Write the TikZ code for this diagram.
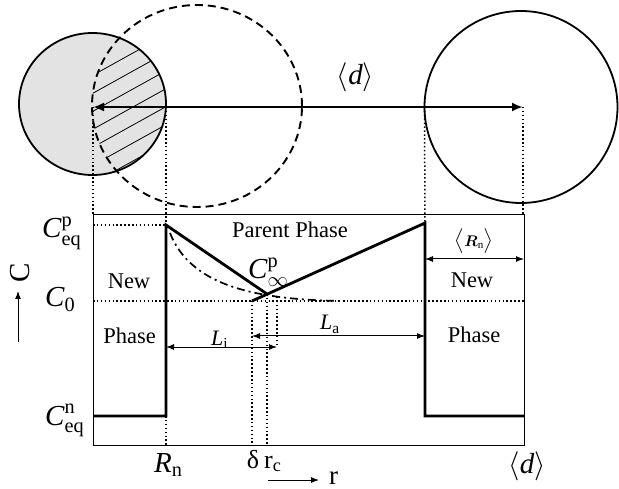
\RequirePackage{fix-cm}
\documentclass[tikz,border=0pt]{standalone}
\usepackage{amsmath}
\usepackage{fontspec}
\setmainfont{Liberation Serif}
\usetikzlibrary{arrows.meta}
\tikzset{
  boldline/.style={line width=2.8pt},
  thinbox/.style={line width=0.8pt},
  dotline/.style={line width=1.5pt, dash pattern=on 1.5pt off 2.4pt},
  hatchline/.style={line width=0.8pt},
  dashcirc/.style={line width=1.9pt, dash pattern=on 8pt off 5pt},
  solidcirc/.style={line width=1.8pt},
  dimarrow/.style={line width=1pt, {Latex[length=8pt,width=6pt]}-{Latex[length=8pt,width=6pt]}},
  bigarrow/.style={line width=2.2pt, {Latex[length=11pt,width=9pt]}-{Latex[length=11pt,width=9pt]}},
  axarrow/.style={line width=1pt, -{Latex[length=8pt,width=6pt]}},
  dashdotline/.style={line width=1.7pt, dash pattern=on 8pt off 4pt on 2pt off 4pt},
  txt/.style={inner sep=0pt, font=\fontsize{22.5}{24}\selectfont},
  mtxt/.style={inner sep=0pt, font=\fontsize{29}{31}\selectfont},
  stxt/.style={inner sep=0pt, font=\fontsize{22}{24}\selectfont},
}
\begin{document}
\begin{tikzpicture}[x=1pt,y=-1pt]
\useasboundingbox (0,0) rectangle (619,489);
% circle centres
\coordinate (C1) at (92.5,104);
\coordinate (C2) at (197,106);
\coordinate (C3) at (521,107);
% gray nucleus with hatched overlap
\fill[gray!22] (C1) ellipse [x radius=73.5pt, y radius=71pt];
\begin{scope}
  \clip (C1) ellipse [x radius=73.5pt, y radius=71pt];
  \clip (C2) ellipse [x radius=105pt, y radius=101pt];
  \foreach \k in {0,...,7} \draw[hatchline] (60,93.5+18*\k) -- ++(140,-77.7);
\end{scope}
\draw[solidcirc] (C1) ellipse [x radius=73.5pt, y radius=71pt];
\draw[dashcirc] (C2) ellipse [x radius=105pt, y radius=101pt];
\draw[solidcirc] (C3) ellipse [x radius=96.5pt, y radius=96pt];
% top distance arrow
\coordinate (A1) at (93,107);
\coordinate (A2) at (523,107);
\coordinate (A3) at (166,107);
\coordinate (A4) at (424.5,107);
\draw[bigarrow] (A1) -- (A2);
\node[mtxt] (dtop) at (355.5,77) {$\langle\text{\itshape d}\rangle$};
% box
\coordinate (BL) at (93,445);
\coordinate (TR) at (524,214);
\coordinate (BT1) at (93,214);
\coordinate (BT2) at (523,214);
\draw[thinbox] (BL) rectangle (TR);
% levels
\coordinate (Peq) at (166,225);
\coordinate (PeqL) at (93,225);
\coordinate (C0L) at (93,301);
\coordinate (C0R) at (524,301);
\coordinate (NeqL) at (93,416);
\coordinate (NeqR) at (166,416);
\coordinate (RnB) at (166,445);
\coordinate (V) at (267,294);
\coordinate (D0) at (252,301);
\coordinate (D1) at (252,445);
\coordinate (R1) at (267,445);
\coordinate (E0) at (277,297);
\coordinate (E1) at (277,347);
\coordinate (RT) at (425,223);
\coordinate (RB) at (425,416);
\coordinate (RR) at (524,416);
% dotted projections
\draw[dotline] (A1) -- (BT1);
\draw[dotline] (A3) -- (Peq);
\draw[dotline] (A4) -- (RT);
\draw[dotline] (A2) -- (BT2);
\draw[dotline] (PeqL) -- (Peq);
\draw[dotline] (C0L) -- (C0R);
\draw[dotline] (NeqR) -- (RnB);
\draw[dotline] (D0) -- (D1);
\draw[dotline] (V) -- (R1);
\draw[dotline] (E0) -- (E1);
% profiles
\draw[boldline, line join=miter] (NeqL) -- (NeqR) -- (Peq) -- (V);
\draw[boldline, line join=miter] (D0) -- (RT) -- (RB) -- (RR);
\coordinate (Q0) at (170,233);
\coordinate (Q1) at (345,301);
\draw[dashdotline] (Q0) .. controls (190,283) and (248,300) .. (Q1);
% dimension arrows
\coordinate (Li1) at (166,347);
\coordinate (La1) at (252,336);
\coordinate (La2) at (425,336);
\coordinate (Rn1) at (425,259);
\coordinate (Rn2) at (524,259);
\draw[dimarrow] (Li1) -- (E1);
\draw[dimarrow] (La1) -- (La2);
\draw[dimarrow] (Rn1) -- (Rn2);
\node[stxt, anchor=base west] (Li) at (211,345) {$\text{\itshape L}_{\text{i}}$};
\node[stxt, anchor=base west] (La) at (320,330) {$\text{\itshape L}_{\text{a}}$};
\node[font=\fontsize{22}{24}\selectfont, inner sep=0pt] (Rnm) at (474,241) {$\bigl\langle{\scriptstyle\boldsymbol{R}_{\mathrm{n}}}\bigr\rangle$};
% texts
\node[txt, anchor=base] (pp) at (290,238) {Parent Phase};
\node[txt, anchor=base] (nl) at (129,289) {New};
\node[txt, anchor=base] (pl) at (129.5,343) {Phase};
\node[txt, anchor=base] (nr) at (472,288) {New};
\node[txt, anchor=base] (pr) at (474,342) {Phase};
\node[mtxt, anchor=base west] (cinf) at (248,279) {$\text{\itshape C}^{\text{p}}_{\infty}$};
\node[mtxt, anchor=base west] (ceqp) at (42,238) {$\text{\itshape C}^{\text{p}}_{\text{eq}}$};
\node[mtxt, anchor=base west] (c0) at (45,307) {$\text{\itshape C}_{\text{0}}$};
\node[mtxt, anchor=base west] (ceqn) at (45,425) {$\text{\itshape C}^{\text{n}}_{\text{eq}}$};
\node[mtxt, rotate=90] (cax) at (20,273) {C};
\coordinate (Ca1) at (18,342);
\coordinate (Ca2) at (18,291);
\draw[axarrow] (Ca1) -- (Ca2);
\node[mtxt, anchor=base west] (rn) at (154,472) {$\text{\itshape R}_{\text{n}}$};
\node[font=\fontsize{26}{28}\selectfont, inner sep=0pt, anchor=base] (dl) at (253,468) {δ};
\node[font=\fontsize{26}{28}\selectfont, inner sep=0pt, anchor=base west] (rc) at (264,468) {r$_{\text{c}}$};
\coordinate (ra1) at (268,480);
\coordinate (ra2) at (319,480);
\draw[axarrow] (ra1) -- (ra2);
\node[font=\fontsize{27}{29}\selectfont, inner sep=0pt, anchor=base west] (rr) at (329,484) {r};
\node[mtxt] (dbot) at (527,466) {$\langle\text{\itshape d}\rangle$};
\end{tikzpicture}
\end{document}
